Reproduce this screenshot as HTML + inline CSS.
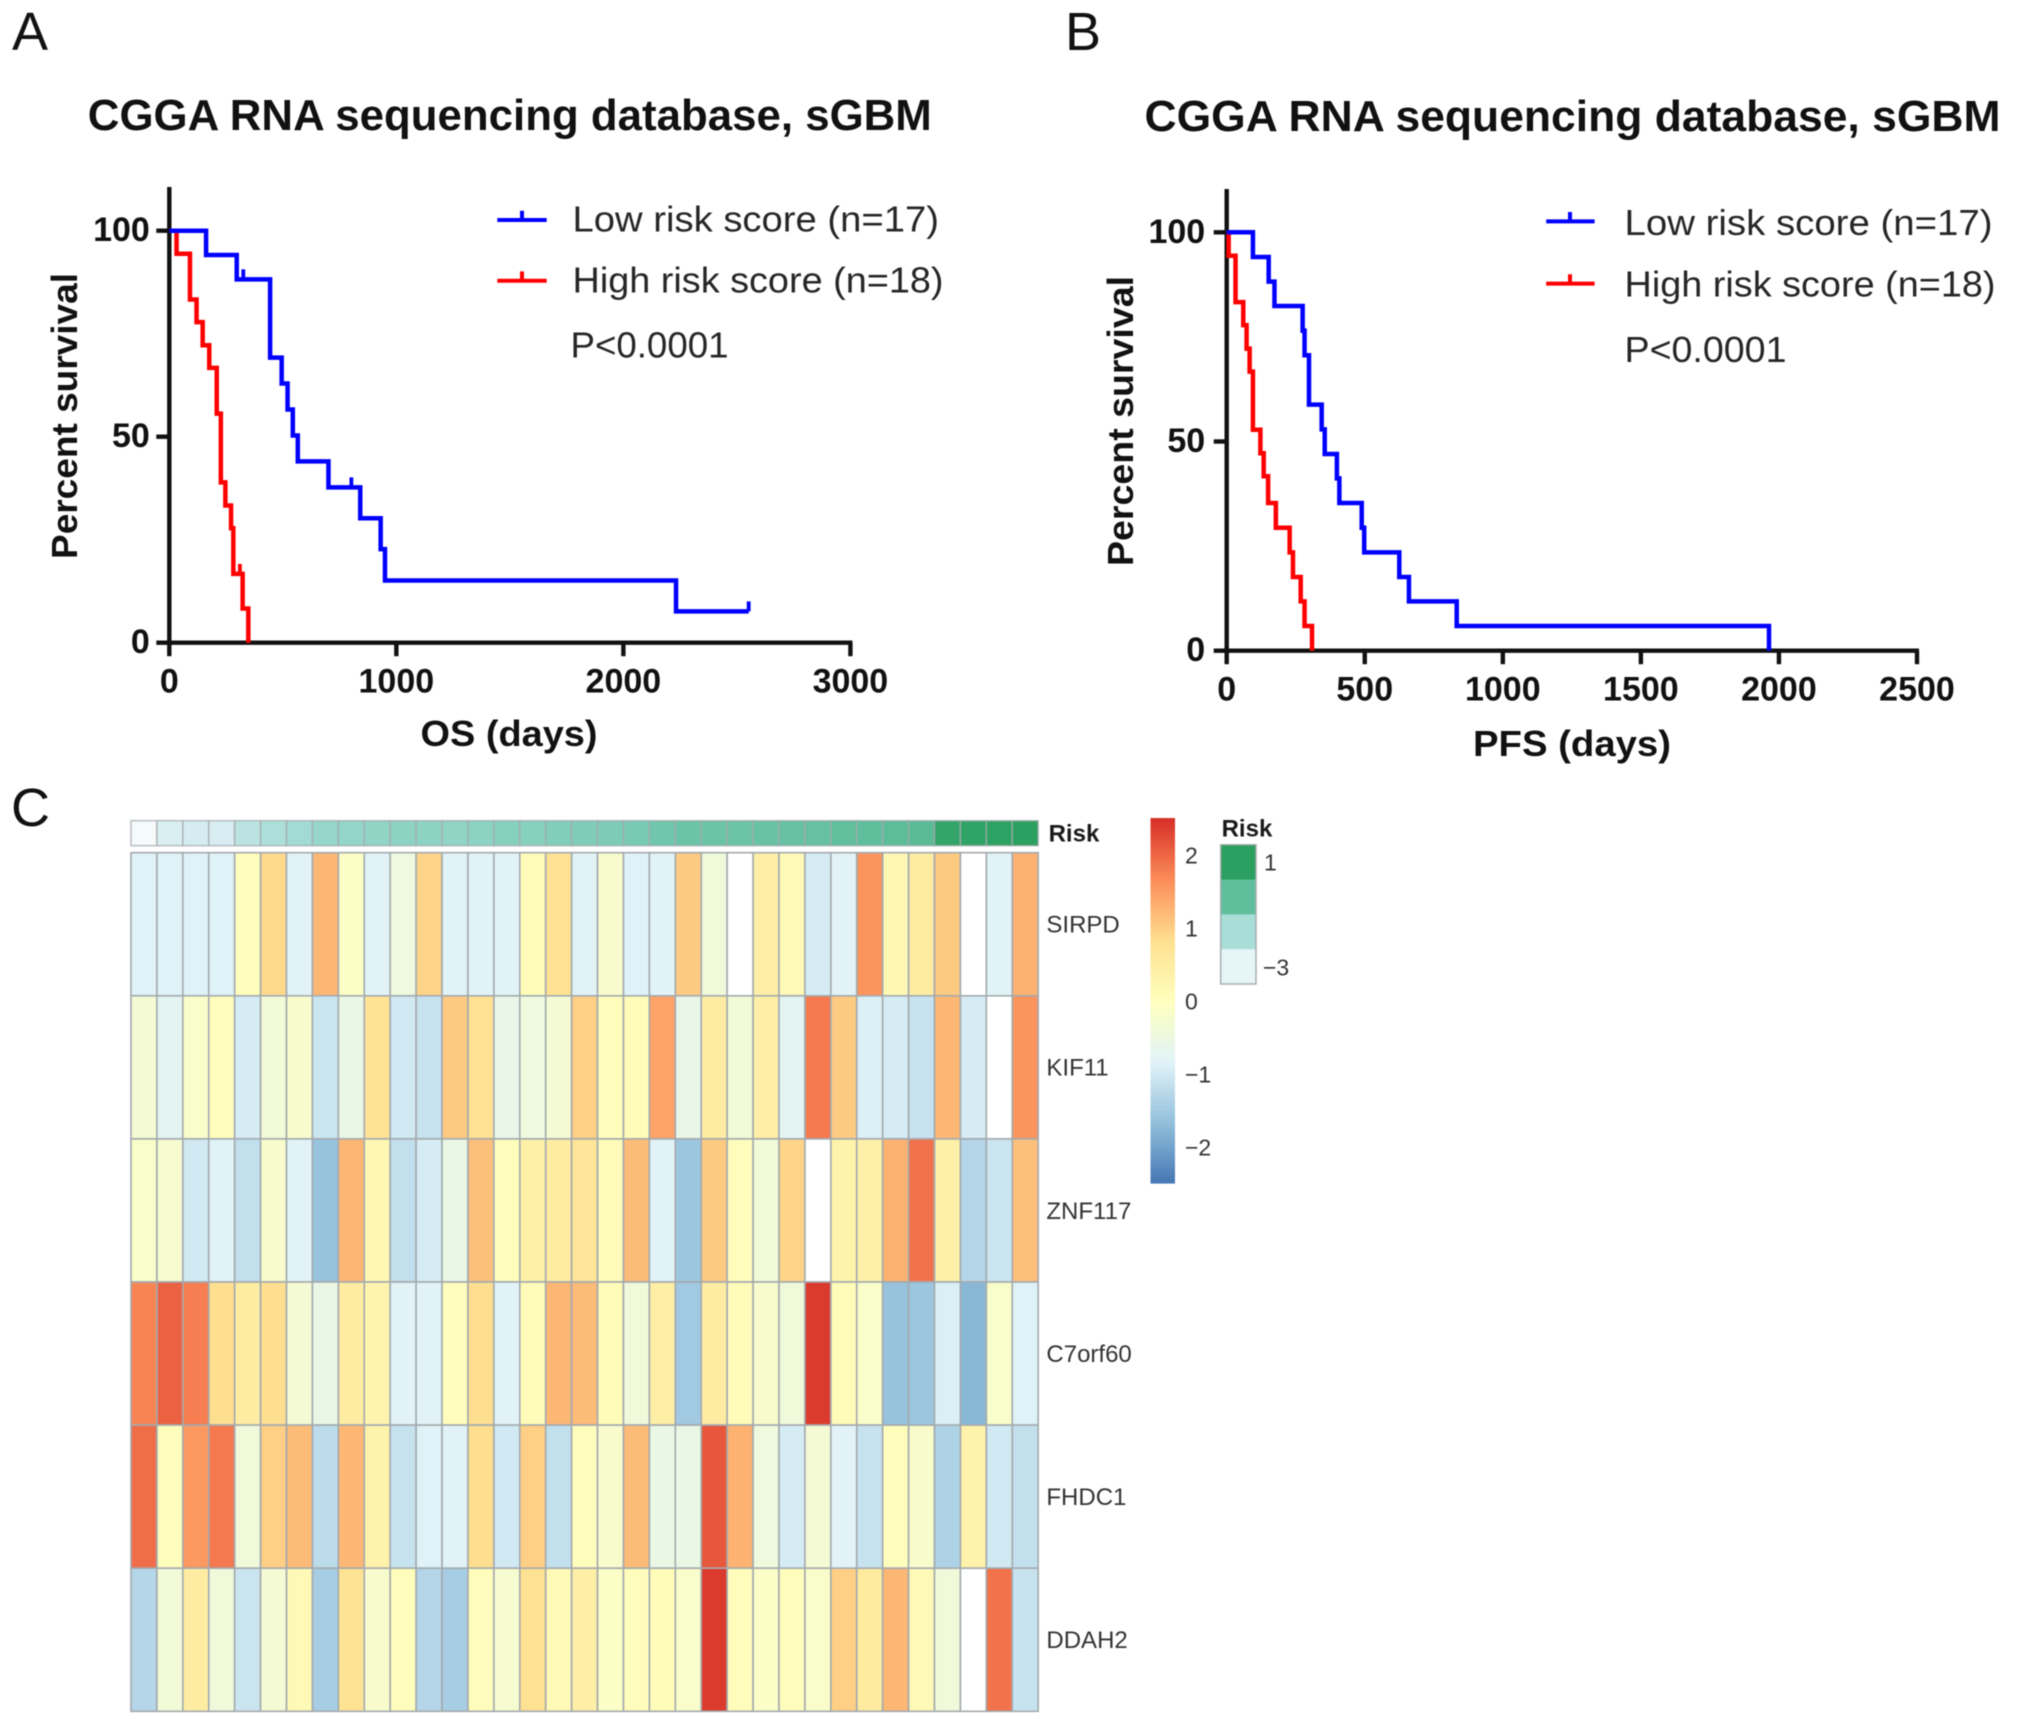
<!DOCTYPE html>
<html lang="en">
<head>
<meta charset="utf-8">
<title>CGGA RNA sequencing database, sGBM survival curves and risk heatmap</title>
<style>
  html,body{margin:0;padding:0;background:#fff;width:2031px;height:1724px;overflow:hidden}
  svg{display:block;filter:blur(0.5px)}
  text{font-family:"Liberation Sans",sans-serif}
  .bold{font-weight:700;fill:#111}
  .reg{fill:#262626}
  .gene{fill:#333;font-size:24px}
</style>
</head>
<body>
<svg id="figure" xmlns="http://www.w3.org/2000/svg" width="2031" height="1724" viewBox="0 0 2031 1724">
  <rect x="0" y="0" width="2031" height="1724" fill="#fff"/>

  <text x="12" y="50" font-size="54" fill="#111">A</text>
  <text x="1065" y="50" font-size="54" fill="#111">B</text>
  <text x="11" y="826" font-size="54" fill="#111">C</text>

  <g id="panel-a">
    <text class="bold" x="87.8" y="130" font-size="44" textLength="844" lengthAdjust="spacingAndGlyphs">CGGA RNA sequencing database, sGBM</text>
    <text class="bold" font-size="36" text-anchor="middle" textLength="286" lengthAdjust="spacingAndGlyphs" transform="translate(77 416) rotate(-90)">Percent survival</text>
    <text class="bold" x="509" y="746" font-size="36" text-anchor="middle" textLength="177" lengthAdjust="spacingAndGlyphs">OS (days)</text>
    <g>
      <path d="M497.3 220H546.7M522 220V210.7" stroke="#0000ff" stroke-width="4" fill="none"/>
      <text class="reg" x="572.5" y="231.7" font-size="36" textLength="366.5" lengthAdjust="spacingAndGlyphs">Low risk score (n=17)</text>
      <path d="M497.3 280.7H546.7M522 280.7V271.4" stroke="#ff0000" stroke-width="4" fill="none"/>
      <text class="reg" x="572.5" y="292.7" font-size="36" textLength="371" lengthAdjust="spacingAndGlyphs">High risk score (n=18)</text>
      <text class="reg" x="570.5" y="357.5" font-size="36" textLength="158" lengthAdjust="spacingAndGlyphs">P&lt;0.0001</text>
    </g>
  </g>

  <g id="panel-b">
    <text class="bold" x="1144.5" y="131" font-size="44" textLength="856" lengthAdjust="spacingAndGlyphs">CGGA RNA sequencing database, sGBM</text>
    <text class="bold" font-size="36" text-anchor="middle" textLength="290" lengthAdjust="spacingAndGlyphs" transform="translate(1133 421) rotate(-90)">Percent survival</text>
    <text class="bold" x="1572" y="756" font-size="36" text-anchor="middle" textLength="198" lengthAdjust="spacingAndGlyphs">PFS (days)</text>
    <g>
      <path d="M1546.2 221.4H1594.6M1570 221.4V212" stroke="#0000ff" stroke-width="4" fill="none"/>
      <text class="reg" x="1624.5" y="234.8" font-size="36" textLength="368" lengthAdjust="spacingAndGlyphs">Low risk score (n=17)</text>
      <path d="M1546.2 283.6H1594.6M1570 283.6V274.2" stroke="#ff0000" stroke-width="4" fill="none"/>
      <text class="reg" x="1624.5" y="296.5" font-size="36" textLength="371" lengthAdjust="spacingAndGlyphs">High risk score (n=18)</text>
      <text class="reg" x="1624.5" y="362.2" font-size="36" textLength="162" lengthAdjust="spacingAndGlyphs">P&lt;0.0001</text>
    </g>
  </g>

  <g id="panel-c">
    <text x="1048.6" y="841.7" font-size="24" font-weight="700" fill="#1a1a1a">Risk</text>
    <text x="1221.6" y="836.7" font-size="24" font-weight="700" fill="#1a1a1a">Risk</text>
  </g>
</svg>

<script>
/* ---------- Kaplan-Meier data (days, percent survival) ---------- */
const osTicks = [0, 1000, 2000, 3000];
const pfsTicks = [0, 500, 1000, 1500, 2000, 2500];
const survivalTicks = [0, 50, 100];

const osLowTimes = [0, 162, 297, 444, 495, 521, 544, 566, 701, 841, 931, 950, 2232, 2552];
const osLowSurvival = [100, 94.1, 88.2, 69.2, 62.9, 56.6, 50.3, 44, 37.7, 30.2, 22.7, 15.1, 7.6, 7.6];
const osLowCensored = [326, 802, 2552];

const osHighTimes = [0, 32, 91, 120, 147, 176, 209, 227, 247, 272, 282, 323, 348];
const osHighSurvival = [100, 94.4, 83.3, 77.8, 72.2, 66.7, 55.6, 38.9, 33.3, 27.8, 16.7, 8.3, 0];
const osHighCensored = [311];

const pfsLowTimes = [0, 95, 152, 173, 275, 282, 298, 344, 355, 399, 408, 489, 498, 625, 660, 833, 1964];
const pfsLowSurvival = [100, 94.1, 88.2, 82.4, 76.5, 70.6, 58.8, 52.9, 47, 41.2, 35.3, 29.4, 23.5, 17.6, 11.8, 5.9, 0];
const pfsHighTimes = [0, 7, 32, 60, 72, 83, 95, 122, 134, 150, 178, 228, 240, 268, 282, 309];
const pfsHighSurvival = [100, 94.4, 83.3, 77.8, 72.2, 66.7, 52.8, 47.2, 41.7, 35.3, 29.4, 23.5, 17.6, 11.8, 5.9, 0];

/* ---------- Heatmap data ---------- */
const geneNames = ["SIRPD", "KIF11", "ZNF117", "C7orf60", "FHDC1", "DDAH2"];
const riskValues = [-3.6,-3.1,-3.0,-3.05,-2.4,-2.1,-1.8,-1.4,-1.3,-1.2,-1.1,-1.1,-1.15,-1.05,-0.9,-0.9,-0.8,-0.75,-0.7,-0.6,-0.4,-0.3,-0.3,-0.3,-0.2,-0.15,-0.15,-0.05,0,0.05,0.1,0.85,0.9,0.95,1.0];
const sirpdValues = [-.85,-.85,-.85,-.85,.05,.9,-.8,1.25,-.1,-.8,-.45,.95,-.8,-.8,-.8,.1,.8,-.8,-.2,-.85,-.8,1.05,-.4,null,.45,.15,-.95,-.8,1.6,.2,.5,1.05,null,-.8,1.3];
const kif11Values = [-.3,-.75,-.15,.05,-.95,-.35,-.2,-1.05,-.55,.75,-1.0,-1.1,1.05,.8,-.6,-.45,-.3,1.0,.05,.1,1.45,-.6,.5,-.35,.45,-.75,1.85,1.05,-.9,-.95,-1.1,1.25,-.95,null,1.6];
const znf117Values = [-.15,-.25,-1.0,-.8,-1.15,-.2,-.8,-1.6,1.25,.2,-1.15,-.95,-.55,1.15,.05,.4,.5,.7,.1,1.2,-.8,-1.55,1.05,.05,-.35,.95,null,.35,.4,1.3,1.9,.4,-1.3,-1.05,1.15];
const c7orf60Values = [1.75,2.05,1.8,.85,.5,.85,-.3,-.55,.5,.3,-.8,-.8,.05,.85,-.8,.1,1.25,1.2,.1,-.4,.45,-1.5,.5,.1,-.2,-.4,2.4,.1,-.15,-1.6,-1.55,-.9,-1.75,-.15,-.85];
const fhdc1Values = [1.95,.05,1.55,1.85,-.4,1.0,1.2,-1.2,1.25,.35,-1.1,-.85,-.8,.85,-1.0,1.0,-1.15,.05,-.2,1.2,-.55,-.55,2.15,1.3,-.45,-.95,-.3,-.8,-1.1,.05,-.2,-1.35,.35,-1.0,-1.15];
const ddah2Values = [-1.3,-.35,.5,-.4,-1.05,-.3,.15,-1.45,.75,-.2,.05,-1.3,-1.45,.05,-.25,.8,.15,.45,-.1,.05,.1,-.15,2.4,.05,-.1,.05,-.15,1.0,.55,1.25,.15,-.4,null,1.9,-1.1];
const colorbarTicks = [2, 1, 0, -1, -2];
const riskLegendLabels = ["1", "\u22123"];
const riskLegendLevels = [1, 0, -2, -3.3];

const NS = "http://www.w3.org/2000/svg";
function make(tag, parent, attrs) {
  const el = document.createElementNS(NS, tag);
  for (const k in attrs) el.setAttribute(k, attrs[k]);
  parent.appendChild(el);
  return el;
}
function mixStops(stops, v) {
  if (v <= stops[0][0]) return stops[0][1];
  for (let i = 1; i < stops.length; i++) {
    if (v <= stops[i][0]) {
      const f = (v - stops[i-1][0]) / (stops[i][0] - stops[i-1][0]);
      const a = stops[i-1][1], b = stops[i][1];
      return [0,1,2].map(c => Math.round(a[c] + (b[c]-a[c]) * f));
    }
  }
  return stops[stops.length-1][1];
}
function rgb(c) { return "rgb(" + c.join(",") + ")"; }

const heatStops = [[-2.5,[69,117,180]],[-1.667,[145,191,219]],[-.833,[224,243,248]],[0,[255,255,191]],[.833,[254,224,144]],[1.667,[252,141,89]],[2.5,[215,48,39]]];
const riskStops = [[-3.6,[245,251,251]],[-3,[213,236,240]],[-2,[168,221,216]],[-1,[138,210,194]],[0,[95,190,156]],[1,[43,160,96]]];
function heatColor(v) { return v === null ? "#ffffff" : rgb(mixStops(heatStops, v)); }
function riskColor(v) { return rgb(mixStops(riskStops, v)); }

/* ---------- Survival chart drawing ---------- */
function stepPath(times, surv, sx, sy) {
  let d = "M" + sx(times[0]) + " " + sy(surv[0]);
  for (let i = 1; i < times.length; i++) {
    d += "H" + sx(times[i]) + "V" + sy(surv[i]);
  }
  return d;
}
function survivalAt(times, surv, t) {
  let s = surv[0];
  for (let i = 0; i < times.length; i++) if (times[i] <= t) s = surv[i];
  return s;
}
function drawKM(cfg) {
  const root = document.getElementById(cfg.root);
  const sx = t => cfg.x0 + (t - cfg.xTicks[0]) * (cfg.x1 - cfg.x0) / (cfg.xTicks[cfg.xTicks.length-1] - cfg.xTicks[0]);
  const sy = s => cfg.y0 + s * (cfg.y100 - cfg.y0) / 100;

  const axes = make("g", root, {});
  
  

  const yAxis = make("line", axes, {x1:cfg.x0, x2:cfg.x0, y1:cfg.top, y2:cfg.y0, stroke:"#111", "stroke-width":4.4});
  
  
  const xAxis = make("line", axes, {x1:cfg.x0, x2:cfg.x1+2, y1:cfg.y0, y2:cfg.y0, stroke:"#111", "stroke-width":4.4});
  
  

  cfg.xTicks.forEach(t => {
    const tick = make("line", axes, {x1:sx(t), x2:sx(t), y1:cfg.y0, y2:cfg.y0+13.5, stroke:"#111", "stroke-width":4.4});
    
    
    const lab = make("text", axes, {x:sx(t), y:cfg.y0+50, "text-anchor":"middle", "font-size":34, class:"bold"});
    lab.textContent = t;
    
    
  });
  survivalTicks.forEach(s => {
    const tick = make("line", axes, {x1:cfg.x0-13, x2:cfg.x0, y1:sy(s), y2:sy(s), stroke:"#111", "stroke-width":4.4});
    
    
    const lab = make("text", axes, {x:cfg.x0-cfg.labelGap, y:sy(s)+10.5, "text-anchor":"end", "font-size":34, class:"bold"});
    lab.textContent = s;
    
    
  });

  cfg.series.forEach(sr => {
    const g = make("g", root, {});
    
    
    const line = make("path", g, {d:stepPath(sr.times, sr.surv, sx, sy), fill:"none", stroke:sr.color, "stroke-width":4.5, "stroke-linejoin":"miter"});
    
    
    sr.censored.forEach(t => {
      const yv = sy(survivalAt(sr.times, sr.surv, t));
      const c = make("line", g, {x1:sx(t), x2:sx(t), y1:yv, y2:yv-10, stroke:sr.color, "stroke-width":3.8});
      
      
    });
  });
}

drawKM({root:"panel-a", x0:169.3, x1:850.4, y0:642.7, y100:230.7, top:187, labelGap:19.5, xTicks:osTicks,
  series:[
    {name:"high-risk-curve", color:"#ff0000", times:osHighTimes, surv:osHighSurvival, censored:osHighCensored},
    {name:"low-risk-curve", color:"#0000ff", times:osLowTimes, surv:osLowSurvival, censored:osLowCensored}
  ]});
drawKM({root:"panel-b", x0:1226.7, x1:1917, y0:650.7, y100:232.3, top:189, labelGap:21.5, xTicks:pfsTicks,
  series:[
    {name:"high-risk-curve-b", color:"#ff0000", times:pfsHighTimes, surv:pfsHighSurvival, censored:[]},
    {name:"low-risk-curve-b", color:"#0000ff", times:pfsLowTimes, surv:pfsLowSurvival, censored:[]}
  ]});

/* ---------- Heatmap drawing ---------- */
(function () {
  const root = document.getElementById("panel-c");
  const left = 131, colW = 25.92, heatTop = 852.7, rowH = 143.1;
  const gridColor = "#a4aaae";
  const matrix = [sirpdValues, kif11Values, znf117Values, c7orf60Values, fhdc1Values, ddah2Values];

  const riskRow = make("g", root, {});
  
  
  riskValues.forEach((v, i) => {
    const r = make("rect", riskRow, {x:left+i*colW, y:820.7, width:colW, height:25, fill:riskColor(v), stroke:gridColor, "stroke-width":1.5, "stroke-opacity":.75});
    
    
  });

  const grid = make("g", root, {});
  
  
  matrix.forEach((row, j) => {
    row.forEach((v, i) => {
      const r = make("rect", grid, {x:left+i*colW, y:heatTop+j*rowH, width:colW, height:rowH, fill:heatColor(v), stroke:gridColor, "stroke-width":1.6});
      
      
    });
    const lab = make("text", root, {x:1046.4, y:heatTop+(j+.5)*rowH+8.3, class:"gene"});
    lab.textContent = geneNames[j];
    
    
  });

  /* colour bar */
  const cb = make("g", root, {});
  
  
  const cbTop = 818, cbBottom = 1183, cbZero = 1001.7, cbUnit = 73;
  const nSteps = 100;
  for (let k = 0; k < nSteps; k++) {
    const yy = cbTop + k * (cbBottom - cbTop) / nSteps;
    const val = (cbZero - (yy + (cbBottom - cbTop) / nSteps / 2)) / cbUnit;
    const seg = make("rect", cb, {x:1150.5, y:yy, width:24.5, height:(cbBottom-cbTop)/nSteps+.6, fill:heatColor(val)});
    
    
  }
  colorbarTicks.forEach(t => {
    const lab = make("text", cb, {x:1185, y:cbZero-t*cbUnit+7.8, "font-size":23, fill:"#333"});
    lab.textContent = String(t).replace("-", "\u2212");
    
    
  });

  /* risk legend */
  const rl = make("g", root, {});
  
  
  const segH = (984 - 844.7) / riskLegendLevels.length;
  riskLegendLevels.forEach((lv, i) => {
    const s = make("rect", rl, {x:1220.7, y:844.7+i*segH, width:35.3, height:segH+.4, fill:i === 3 ? "#e6f5f8" : riskColor(lv)});
    
    
  });
  const frame = make("rect", rl, {x:1220.7, y:844.7, width:35.3, height:139.3, fill:"none", stroke:gridColor, "stroke-width":1.4});
  
  
  riskLegendLabels.forEach((t, i) => {
    const lab = make("text", rl, {x:i === 0 ? 1264 : 1263, y:i === 0 ? 870.7 : 975.7, "font-size":23, fill:"#333"});
    lab.textContent = t;
    
    
  });
})();
</script>
</body>
</html>
